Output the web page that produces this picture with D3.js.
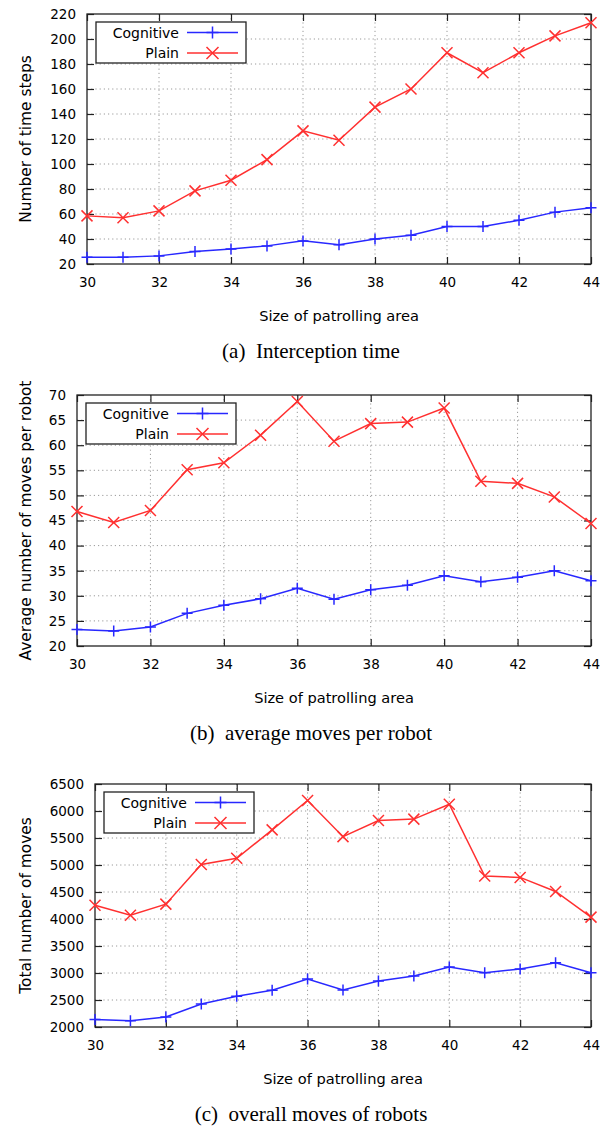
<!DOCTYPE html>
<html>
<head>
<meta charset="utf-8">
<script src="https://cdn.jsdelivr.net/npm/d3@7"></script>
<style>
  body { margin: 0; background: #fff; }
  svg { display: block; }
</style>
</head>
<body>
<div id="chart"></div>
<script>
// Data
const sizes = [30, 31, 32, 33, 34, 35, 36, 37, 38, 39, 40, 41, 42, 43, 44];
const xTicks = [30, 32, 34, 36, 38, 40, 42, 44];

const timeCognitive = [25.5, 25.5, 26.5, 30, 32, 34.5, 38.5, 35.5, 40, 43, 50, 50, 55, 61.5, 65];
const timePlain = [58.5, 57, 62.5, 78.5, 87, 103.5, 126.5, 119, 145.5, 160, 189, 173, 189, 202.5, 213];
const timeTicks = [20, 40, 60, 80, 100, 120, 140, 160, 180, 200, 220];

const avgCognitive = [23.3, 23, 23.8, 26.5, 28.1, 29.4, 31.5, 29.3, 31.2, 32.1, 34, 32.8, 33.7, 35, 33];
const avgPlain = [46.8, 44.6, 47, 55.1, 56.5, 62, 68.7, 60.8, 64.3, 64.6, 67.4, 52.8, 52.4, 49.7, 44.4];
const avgTicks = [20, 25, 30, 35, 40, 45, 50, 55, 60, 65, 70];

const totalCognitive = [2140, 2115, 2185, 2425, 2570, 2680, 2890, 2685, 2850, 2945, 3110, 3005, 3075, 3190, 3005];
const totalPlain = [4255, 4070, 4275, 5010, 5125, 5650, 6195, 5525, 5825, 5850, 6125, 4795, 4770, 4510, 4035];
const totalTicks = [2000, 2500, 3000, 3500, 4000, 4500, 5000, 5500, 6000, 6500];

const seriesNames = ["Cognitive", "Plain"];

const W = 611, H = 1126;
const tickFont = "DejaVu Sans, sans-serif";
const blue = "#2828ff";
const red = "#ff3030";

const svg = d3.select("#chart").append("svg")
  .attr("width", W)
  .attr("height", H);

const panels = [
  { left: 87, top: 14, right: 591, bottom: 264, ticks: timeTicks,
    cog: timeCognitive, plain: timePlain,
    yTitle: "Number of time steps", caption: "(a)  Interception time" },
  { left: 77, top: 395, right: 591, bottom: 646, ticks: avgTicks,
    cog: avgCognitive, plain: avgPlain,
    yTitle: "Average number of moves per robot", caption: "(b)  average moves per robot" },
  { left: 95, top: 784, right: 591, bottom: 1027, ticks: totalTicks,
    cog: totalCognitive, plain: totalPlain,
    yTitle: "Total number of moves", caption: "(c)  overall moves of robots" },
];

function plusMarker(g, cx, cy, color, r) {
  g.append("path")
    .attr("d", `M${cx - r},${cy}H${cx + r}M${cx},${cy - r}V${cy + r}`)
    .attr("stroke", color).attr("stroke-width", 1.5).attr("fill", "none");
}

function crossMarker(g, cx, cy, color, r) {
  g.append("path")
    .attr("d", `M${cx - r},${cy - r}L${cx + r},${cy + r}M${cx - r},${cy + r}L${cx + r},${cy - r}`)
    .attr("stroke", color).attr("stroke-width", 1.5).attr("fill", "none");
}

function drawPanel(p) {
  const x = d3.scaleLinear().domain([30, 44]).range([p.left, p.right]);
  const y = d3.scaleLinear().domain(d3.extent(p.ticks)).range([p.bottom, p.top]);
  const g = svg.append("g");

  // Grid
  g.append("g")
    .selectAll("line")
    .data(xTicks.slice(1, -1))
    .join("line")
    .attr("x1", (d) => x(d)).attr("x2", (d) => x(d))
    .attr("y1", p.top).attr("y2", p.bottom)
    .attr("stroke", "#9a9a9a").attr("stroke-width", 1)
    .attr("stroke-dasharray", "1.2,3");
  g.append("g")
    .selectAll("line")
    .data(p.ticks.slice(1, -1))
    .join("line")
    .attr("y1", (d) => y(d)).attr("y2", (d) => y(d))
    .attr("x1", p.left).attr("x2", p.right)
    .attr("stroke", "#9a9a9a").attr("stroke-width", 1)
    .attr("stroke-dasharray", "1.2,3");

  // Axes (ticks inward, mirrored)
  const tl = 7;
  const xb = g.append("g")
    .attr("transform", `translate(0,${p.bottom})`)
    .call(d3.axisBottom(x).tickValues(xTicks).tickSize(-tl).tickPadding(tl + 6).tickFormat(d3.format("d")));
  const xt = g.append("g")
    .attr("transform", `translate(0,${p.top})`)
    .call(d3.axisTop(x).tickValues(xTicks).tickSize(-tl).tickFormat(""));
  const yl = g.append("g")
    .attr("transform", `translate(${p.left},0)`)
    .call(d3.axisLeft(y).tickValues(p.ticks).tickSize(-tl).tickPadding(tl + 4).tickFormat(d3.format("d")));
  const yr = g.append("g")
    .attr("transform", `translate(${p.right},0)`)
    .call(d3.axisRight(y).tickValues(p.ticks).tickSize(-tl).tickFormat(""));
  [xb, xt, yl, yr].forEach((a) => {
    a.select(".domain").remove();
    a.selectAll(".tick line").attr("stroke", "#222").attr("stroke-width", 1.2);
    a.selectAll("text").attr("fill", "#000")
      .style("font-family", tickFont).style("font-size", "13.5px");
  });

  // Frame
  g.append("rect")
    .attr("x", p.left).attr("y", p.top)
    .attr("width", p.right - p.left).attr("height", p.bottom - p.top)
    .attr("fill", "none").attr("stroke", "#222").attr("stroke-width", 1.3);

  // Lines
  const line = d3.line().x((d, i) => x(sizes[i])).y((d) => y(d));
  g.append("path").datum(p.cog).attr("d", line)
    .attr("fill", "none").attr("stroke", blue).attr("stroke-width", 1.5);
  g.append("path").datum(p.plain).attr("d", line)
    .attr("fill", "none").attr("stroke", red).attr("stroke-width", 1.5);
  p.cog.forEach((d, i) => plusMarker(g, x(sizes[i]), y(d), blue, 5.5));
  p.plain.forEach((d, i) => crossMarker(g, x(sizes[i]), y(d), red, 5.5));

  // Legend
  const lx = p.left + 9, ly = p.top + 8;
  const lg = g.append("g").attr("transform", `translate(${lx},${ly})`);
  lg.append("rect").attr("width", 150).attr("height", 41)
    .attr("fill", "#fff").attr("stroke", "#222").attr("stroke-width", 1.3);
  seriesNames.forEach((name, i) => {
    const yy = 10.5 + i * 20.5;
    lg.append("text").text(name)
      .attr("x", 83).attr("y", yy).attr("dy", "0.36em")
      .attr("text-anchor", "end")
      .style("font-family", tickFont).style("font-size", "14px").attr("fill", "#000");
    const c = i === 0 ? blue : red;
    lg.append("line").attr("x1", 91).attr("x2", 142).attr("y1", yy).attr("y2", yy)
      .attr("stroke", c).attr("stroke-width", 1.5);
    if (i === 0) plusMarker(lg, 116.5, yy, c, 6);
    else crossMarker(lg, 116.5, yy, c, 6);
  });

  // Titles
  g.append("text").text("Size of patrolling area")
    .attr("x", (p.left + p.right) / 2).attr("y", p.bottom + 52).attr("dy", "0.36em")
    .attr("text-anchor", "middle")
    .style("font-family", tickFont).style("font-size", "14.6px").attr("fill", "#000");
  g.append("text").text(p.yTitle)
    .attr("transform", `translate(25,${(p.top + p.bottom) / 2}) rotate(-90)`)
    .attr("dy", "0.36em")
    .attr("text-anchor", "middle")
    .style("font-family", tickFont).style("font-size", "15.4px").attr("fill", "#000");
  g.append("text").text(p.caption)
    .attr("x", 311).attr("y", p.bottom + 87).attr("dy", "0.34em")
    .attr("text-anchor", "middle")
    .style("white-space", "pre")
    .style("font-family", "Liberation Serif, serif").style("font-size", "21px").attr("fill", "#000");
}

panels.forEach(drawPanel);
</script>
</body>
</html>
